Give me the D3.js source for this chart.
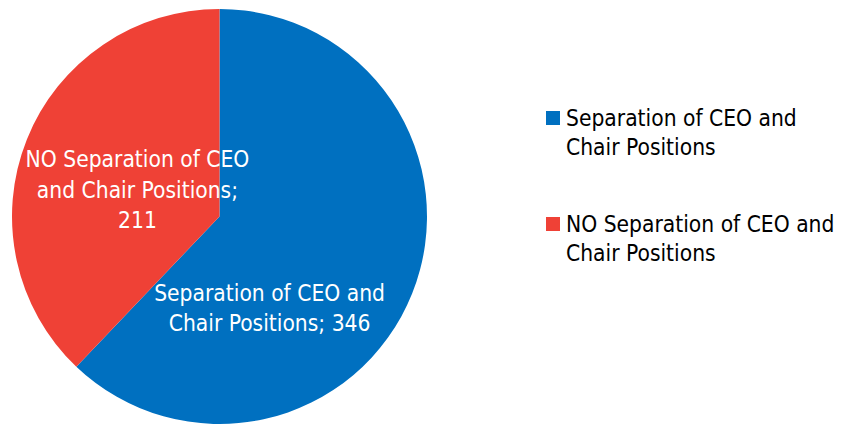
<!DOCTYPE html>
<html>
<head>
<meta charset="utf-8">
<script src="https://cdn.jsdelivr.net/npm/d3@7"></script>
<style>
  body { margin: 0; background: #fff; }
  svg text { font-family: "Liberation Sans Narrow", "Arial Narrow", "DejaVu Sans Condensed", sans-serif; }
</style>
</head>
<body>
<svg id="chart"></svg>
<script>
var categories = ["Separation of CEO and Chair Positions", "NO Separation of CEO and Chair Positions"]
var values = [346, 211]
var colors = ["#0070C0", "#EF4136"]
var sliceLabelLines = [["Separation of CEO and", "Chair Positions; 346"], ["NO Separation of CEO", "and Chair Positions;", "211"]]
var legendLines = [["Separation of CEO and", "Chair Positions"], ["NO Separation of CEO and", "Chair Positions"]]

var screen = {width: 842, height: 424}
var pieDim = {cx: 219.5, cy: 216.5, r: 207.5}
var fontSize = 22.6
var lineH = 30.5

var svg = d3.select("#chart")
    .attr("width", screen.width)
    .attr("height", screen.height)

var slices = categories.map(function (c, i) {
    return {name: c, value: values[i], color: colors[i], lines: sliceLabelLines[i]}
})

var pie = d3.pie()
    .sort(null)
    .value(function (d) { return d.value })

var arc = d3.arc()
    .innerRadius(0)
    .outerRadius(pieDim.r)

var g = svg.append("g")
    .attr("transform", "translate(" + pieDim.cx + "," + pieDim.cy + ")")

var arcs = pie(slices)

g.selectAll("path")
    .data(arcs)
    .enter()
    .append("path")
    .attr("d", arc)
    .attr("fill", function (d) { return d.data.color })

// label placement, relative to slice centroid (Excel "best fit" moves them around)
var labelArc = d3.arc().innerRadius(0).outerRadius(pieDim.r * 0.8)
var labelShift = [[-27, 60], [-5, 3]]

g.selectAll("text.slice")
    .data(arcs)
    .enter()
    .append("text")
    .classed("slice", true)
    .attr("text-anchor", "middle")
    .attr("fill", "#fff")
    .attr("font-size", fontSize)
    .each(function (d, i) {
        var c = labelArc.centroid(d)
        var x = c[0] + labelShift[i][0]
        var y = c[1] + labelShift[i][1]
        var n = d.data.lines.length
        var y0 = y - (n - 1) * 30 / 2 + 24 * 0.35
        d3.select(this).selectAll("tspan")
            .data(d.data.lines)
            .enter()
            .append("tspan")
            .attr("x", x)
            .attr("y", function (t, j) { return y0 + j * lineH })
            .text(function (t) { return t })
    })

var legend = svg.append("g")
    .attr("transform", "translate(546,111)")

var items = legend.selectAll("g")
    .data(slices)
    .enter()
    .append("g")
    .attr("transform", function (d, i) { return "translate(0," + (i * 106) + ")" })

items.append("rect")
    .attr("width", 14)
    .attr("height", 14)
    .attr("fill", function (d) { return d.color })

items.append("text")
    .attr("font-size", fontSize)
    .attr("fill", "#000")
    .each(function (d, i) {
        d3.select(this).selectAll("tspan")
            .data(legendLines[i])
            .enter()
            .append("tspan")
            .attr("x", 20)
            .attr("y", function (t, j) { return 15 + j * 28.5 })
            .text(function (t) { return t })
    })
</script>
</body>
</html>
